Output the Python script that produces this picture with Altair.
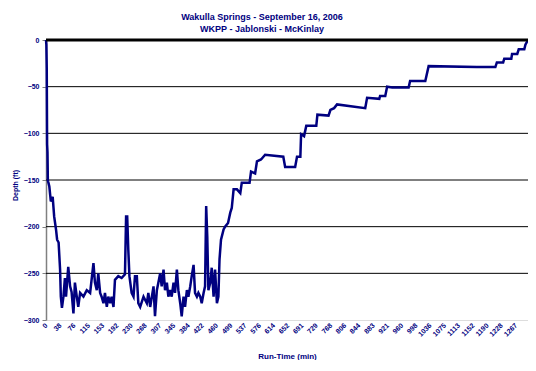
import altair as alt
import pandas as pd

run_time = [0, 1, 2, 3, 4, 5, 6, 9, 13, 18, 22, 27, 30, 34, 38, 40, 43, 47, 51, 54, 60, 65, 69, 74, 78, 83, 87, 92,
            101, 110, 119, 128, 132, 137, 141, 146, 150, 155, 159, 164, 168, 173, 177, 182, 186, 195, 204, 213,
            216, 219, 222, 225, 231, 236, 240, 245, 249, 254, 263, 272, 276, 281, 290, 294, 299, 303, 308, 312,
            317, 321, 326, 330, 335, 339, 344, 348, 353, 357, 362, 366, 371, 375, 380, 384, 389, 393, 398, 402,
            407, 411, 416, 420, 425, 429, 432, 435, 438, 443, 447, 452, 456, 461, 465, 468, 472, 479, 483, 491,
            497, 501, 506, 515, 524, 528, 549, 553, 564, 569, 580, 591, 640, 645, 672, 677, 686, 688, 696, 702,
            729, 732, 762, 767, 777, 785, 861, 866, 899, 901, 915, 920, 934, 978, 982, 1023, 1032, 1162, 1212,
            1216, 1233, 1236, 1255, 1257, 1271, 1275, 1290, 1293, 1300]
depth = [0, -5, -30, -112, -120, -150, -152, -157, -173, -168, -189, -203, -214, -217, -246, -275, -287, -275,
         -255, -275, -243, -264, -270, -293, -260, -275, -286, -271, -275, -268, -271, -239, -260, -268, -250,
         -271, -275, -282, -271, -286, -275, -282, -275, -286, -257, -253, -255, -251, -189, -189, -225, -253,
         -271, -275, -253, -253, -282, -286, -275, -282, -271, -286, -264, -296, -268, -260, -250, -264, -246,
         -268, -260, -275, -268, -275, -260, -271, -246, -268, -282, -296, -275, -286, -268, -275, -264, -253,
         -241, -271, -275, -271, -275, -282, -271, -264, -178, -211, -268, -260, -244, -275, -246, -282, -275,
         -235, -214, -203, -200, -196, -185, -180, -160, -160, -164, -153, -153, -141, -143, -130, -128, -123,
         -125, -136, -136, -125, -125, -101, -103, -92, -92, -80, -81, -75, -73, -69, -73, -62, -63, -60, -60,
         -50, -51, -51, -44, -44, -28, -29, -29, -24, -24, -20, -20, -15, -15, -10, -10, -5, 0]

x_ticks = [0, 38, 76, 115, 153, 192, 230, 268, 307, 345, 384, 422, 460, 499, 537, 576, 614, 652, 691, 729,
           768, 806, 844, 883, 921, 960, 998, 1036, 1075, 1113, 1152, 1190, 1228, 1267]
y_ticks = [0, -50, -100, -150, -200, -250, -300]
grid_vals = [-50, -100, -150, -200, -250]

NAVY = "#000080"
FONT = "Liberation Sans"

df = pd.DataFrame({"t": run_time, "d": depth})
grid_df = pd.DataFrame({"d": grid_vals})
zero_df = pd.DataFrame({"d": [0]})

x_scale = alt.Scale(domain=[0, 1300], nice=False, zero=False)
y_scale = alt.Scale(domain=[-300, 0], nice=False)

y_axis = alt.Axis(title="Depth (ft)", values=y_ticks, format="d", labelFont=FONT, labelFontSize=7,
                  labelFontWeight="bold", labelColor=NAVY, labelPadding=3,
                  domainColor="#808080", domainWidth=1.5, tickColor="#808080", tickSize=4,
                  grid=False, titleFont=FONT, titleFontSize=7, titleFontWeight="bold",
                  titleColor=NAVY, titleAngle=-90, titleX=-31, titleY=145,
                  titleAlign="center", titleBaseline="middle")
y_enc = alt.Y("d:Q", scale=y_scale, axis=y_axis)

grid = alt.Chart(grid_df).mark_rule(color="#000000", strokeWidth=1).encode(y=y_enc)

line = alt.Chart(df).mark_line(color=NAVY, strokeWidth=2.5, interpolate="linear").encode(
    x=alt.X("t:Q", scale=x_scale,
            axis=alt.Axis(title="Run-Time (min)", values=x_ticks, format="d", labelAngle=-45,
                          labelAlign="right", labelBaseline="middle", labelFont=FONT, labelFontSize=7,
                          labelFontWeight="bold", labelColor=NAVY, labelPadding=4, labelOverlap=False,
                          labelFlush=False, domain=False, ticks=False, grid=False,
                          titleFont=FONT, titleFontSize=8, titleFontWeight="bold", titleColor=NAVY,
                          titleY=36, titleBaseline="middle")),
    y=y_enc
)

zero = alt.Chart(zero_df).mark_rule(color="#000000", strokeWidth=3).encode(y=y_enc)

chart = alt.layer(grid, line, zero).properties(
    width=482,
    height=280,
    autosize=alt.AutoSizeParams(type="none"),
    padding={"left": 38, "top": 32, "right": 0, "bottom": 40},
    title=alt.TitleParams(
        text=["Wakulla Springs - September 16, 2006", "WKPP - Jablonski - McKinlay"],
        font=FONT, fontSize=9, fontWeight="bold", color=NAVY, anchor="middle", dx=-25, dy=5,
        offset=6, lineHeight=12
    )
).configure_view(stroke=None).configure(background="white")

chart.save("out.html", embed_options={"renderer": "svg", "actions": False})
